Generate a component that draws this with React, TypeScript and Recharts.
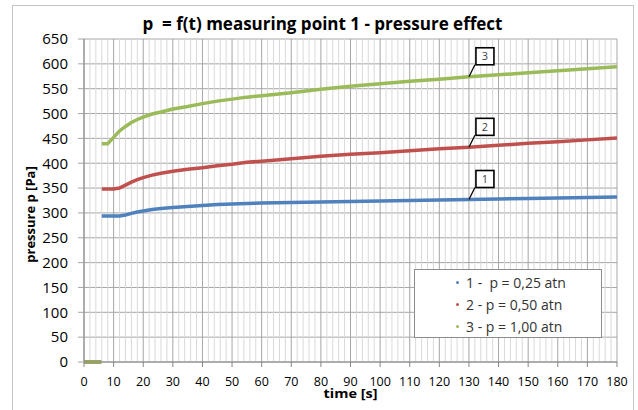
import React from 'react';
import {
  LineChart,
  Line,
  XAxis,
  YAxis,
  CartesianGrid,
  Legend,
  ReferenceDot,
} from 'recharts';

// time [s]
const time = [0, 1, 2, 3, 4, 5, 5.8, 5.9, 6, 8, 10, 12, 14, 16, 18, 20, 23, 26, 30, 35, 40, 45, 50, 55, 60, 70, 80, 90, 100, 110, 120, 130, 140, 150, 160, 170, 180];
// 1 - p = 0,25 atn
const series1 = [0, 0, 0, 0, 0, 0, 0, null, 294, 294, 294, 294, 296, 299, 302, 304, 307, 309, 311, 313, 315, 317, 318, 319, 320, 321, 322, 323, 324, 325, 326, 327, 328, 329, 330, 331, 332];
// 2 - p = 0,50 atn
const series2 = [0, 0, 0, 0, 0, 0, 0, null, 348, 348, 348, 350, 356, 362, 367, 371, 376, 380, 384, 388, 391, 395, 398, 402, 404, 409, 414, 418, 421, 425, 429, 432, 436, 440, 443, 447, 451];
// 3 - p = 1,00 atn
const series3 = [0, 0, 0, 0, 0, 0, 0, null, 439, 439, 452, 465, 474, 482, 488, 493, 499, 503, 509, 514, 520, 525, 529, 533, 536, 542, 549, 555, 560, 565, 569, 574, 578, 582, 586, 590, 594];

const seriesNames = ['1 -  p = 0,25 atn', '2 - p = 0,50 atn', '3 - p = 1,00 atn'];
const seriesColors = ['#4F81BD', '#C0504D', '#9BBB59'];
const calloutLabels = ['1', '2', '3'];
const calloutTime = 130;

const xTicks = [0, 2, 4, 6, 8, 10, 12, 14, 16, 18, 20, 22, 24, 26, 28, 30, 32, 34, 36, 38, 40, 42, 44, 46, 48, 50, 52, 54, 56, 58, 60, 62, 64, 66, 68, 70, 72, 74, 76, 78, 80, 82, 84, 86, 88, 90, 92, 94, 96, 98, 100, 102, 104, 106, 108, 110, 112, 114, 116, 118, 120, 122, 124, 126, 128, 130, 132, 134, 136, 138, 140, 142, 144, 146, 148, 150, 152, 154, 156, 158, 160, 162, 164, 166, 168, 170, 172, 174, 176, 178, 180];
const yTicks = [0, 50, 100, 150, 200, 250, 300, 350, 400, 450, 500, 550, 600, 650];

const title = 'p  = f(t) measuring point 1 - pressure effect';
const xTitle = 'time [s]';
const yTitle = 'pressure p [Pa]';

const data = time.map((t, i) => ({ t, s1: series1[i], s2: series2[i], s3: series3[i] }));
const seriesKeys = ['s1', 's2', 's3'];
const seriesArrays = [series1, series2, series3];

const FONT = '"Open Sans", "Liberation Sans", sans-serif';
const MAJOR = '#a6a6a6';
const MINOR = '#d9d9d9';
const AXIS = '#868686';

const makeCallout = (label: string) => (props: any) => {
  const { cx, cy } = props;
  if (cx == null || cy == null) return <g />;
  return (
    <g>
      <line x1={cx} y1={cy} x2={cx + 6} y2={cy - 12} stroke="#000" strokeWidth={1.3} />
      <rect x={cx + 7} y={cy - 29} width={18} height={17} fill="#fff" stroke="#000" strokeWidth={1.6} />
      <text x={cx + 16} y={cy - 16.5} textAnchor="middle" fontSize={11} fontFamily={FONT} fill="#404040">
        {label}
      </text>
    </g>
  );
};

const verticalLine = (props: any) => {
  const { x1, y1, x2, y2, index } = props;
  const major = Math.round((x1 - 84) / 2.9611) % 10 === 0;
  return <line key={`v-${index}`} x1={x1} y1={y1} x2={x2} y2={y2} stroke={major ? MAJOR : MINOR} strokeWidth={1} />;
};

const XTick = (props: any) => {
  const { x, y, payload } = props;
  const v = payload?.value;
  if (v % 10 !== 0) return <g />;
  return (
    <g>
      <line x1={x} x2={x} y1={y - 15} y2={y - 10} stroke={AXIS} strokeWidth={1} />
      <text x={x} y={y} dy="0.71em" textAnchor="middle" fontSize={12.5} fontFamily={FONT} fill="#000">
        {String(v)}
      </text>
    </g>
  );
};

const LegendBox = (props: any) => {
  const payload = props.payload || [];
  return (
    <div
      style={{
        width: 186,
        height: 65,
        border: '1px solid #8c8c8c',
        background: '#fff',
        fontFamily: FONT,
        fontSize: 14,
        color: '#333',
        boxSizing: 'content-box',
        paddingTop: 2,
      }}
    >
      {payload.map((p: any, i: number) => (
        <div key={i} style={{ display: 'flex', alignItems: 'center', height: 21.7, paddingLeft: 41 }}>
          <span
            style={{
              display: 'inline-block',
              width: 3,
              height: 3,
              borderRadius: 2,
              background: p.color,
              marginRight: 7,
            }}
          />
          <span style={{ whiteSpace: 'pre' }}>{p.value}</span>
        </div>
      ))}
    </div>
  );
};

export default function App() {
  return (
    <div style={{ position: 'absolute', left: 0, top: 0, width: 638, height: 410, background: '#fff', overflow: 'hidden' }}>
      <div
        style={{
          position: 'absolute',
          left: 12,
          top: 5,
          width: 620,
          height: 420,
          border: '1px solid #c4c4c4',
        }}
      />
      <div
        style={{
          position: 'absolute',
          left: 12,
          width: 621,
          top: 12,
          textAlign: 'center',
          fontFamily: FONT,
          fontWeight: 700,
          fontSize: 17,
          color: '#000',
          whiteSpace: 'pre',
          lineHeight: '24px',
        }}
      >
        {title}
      </div>
      <div style={{ position: 'absolute', left: 0, top: 0 }}>
        <LineChart width={638} height={410} data={data} margin={{ top: 39, right: 21, bottom: 0, left: 0 }}>
          <CartesianGrid stroke={MAJOR} vertical={verticalLine} horizontal={true} />
          <XAxis
            dataKey="t"
            type="number"
            domain={[0, 180]}
            ticks={xTicks}
            interval={0}
            height={48}
            tickLine={false}
            tickSize={6}
            tickMargin={9}
            axisLine={{ stroke: AXIS }}
            tick={<XTick />}
            label={{
              content: (p: any) => {
                const vb = p.viewBox || {};
                return (
                  <text
                    x={vb.x + vb.width / 2 - 27}
                    y={vb.y + vb.height - 12}
                    textLength={54}
                    lengthAdjust="spacingAndGlyphs"
                    fontFamily={FONT}
                    fontWeight={700}
                    fontSize={13}
                    fill="#000"
                  >
                    {xTitle}
                  </text>
                );
              },
            }}
          />
          <YAxis
            type="number"
            domain={[0, 650]}
            ticks={yTicks}
            interval={0}
            width={84}
            tickLine={{ stroke: MAJOR }}
            tickSize={6}
            tickMargin={10}
            axisLine={{ stroke: AXIS }}
            tick={{ fontSize: 15, fontFamily: FONT, fill: '#000' }}
            label={{
              content: (p: any) => {
                const vb = p.viewBox || {};
                const cx = vb.x + 30;
                const cy = vb.y + vb.height / 2 + 14;
                return (
                  <text
                    x={cx}
                    y={cy}
                    transform={`rotate(-90 ${cx} ${cy})`}
                    textAnchor="middle"
                    dominantBaseline="central"
                    fontFamily={FONT}
                    fontWeight={700}
                    fontSize={13}
                    fill="#000"
                  >
                    {yTitle}
                  </text>
                );
              },
            }}
          />
          {seriesKeys.map((k, i) => (
            <Line
              key={k}
              dataKey={k}
              name={seriesNames[i]}
              stroke={seriesColors[i]}
              strokeWidth={3.5}
              dot={false}
              type="linear"
              connectNulls={false}
              isAnimationActive={false}
            />
          ))}
          {seriesArrays.map((arr, i) => (
            <ReferenceDot
              key={`c-${i}`}
              x={calloutTime}
              y={arr[time.indexOf(calloutTime)] as number}
              shape={makeCallout(calloutLabels[i])}
            />
          ))}
          <Legend
            layout="vertical"
            align="center"
            verticalAlign="middle"
            content={<LegendBox />}
            wrapperStyle={{ position: 'absolute', left: 414, top: 269, width: 188, height: 67 }}
          />
        </LineChart>
      </div>
    </div>
  );
}
